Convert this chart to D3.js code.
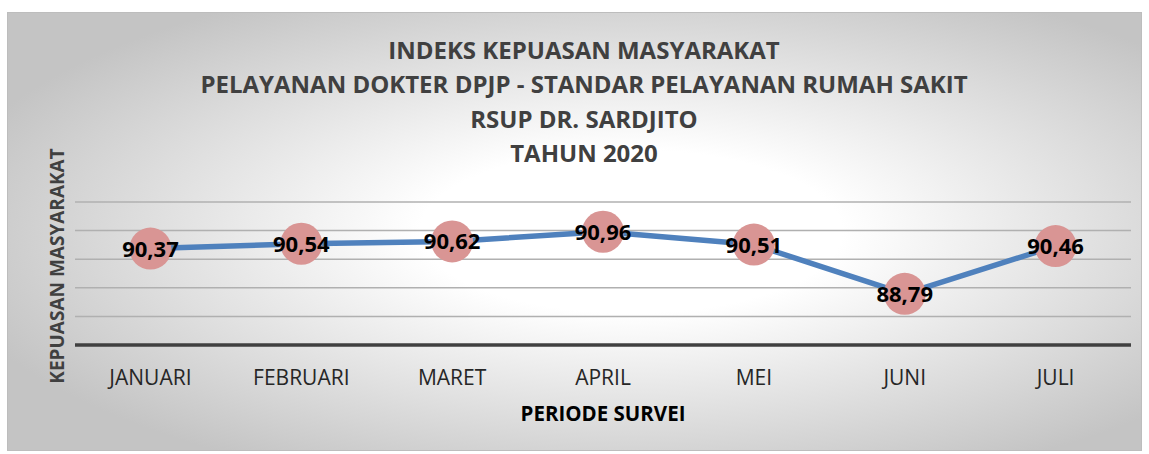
<!DOCTYPE html>
<html><head><meta charset="utf-8">
<script src="https://cdn.jsdelivr.net/npm/d3@7"></script>
<style>body{margin:0;background:#fff}svg{display:block}</style>
</head><body><svg id="c" width="1149" height="454"></svg>
<script>
const categories = ["JANUARI","FEBRUARI","MARET","APRIL","MEI","JUNI","JULI"];
const values = [90.37, 90.54, 90.62, 90.96, 90.51, 88.79, 90.46];
const yTicks = [87, 88, 89, 90, 91, 92];
const titleLines = ["INDEKS KEPUASAN MASYARAKAT","PELAYANAN DOKTER DPJP - STANDAR PELAYANAN RUMAH SAKIT","RSUP DR. SARDJITO","TAHUN 2020"];
const xTitle = "PERIODE SURVEI";
const yTitle = "KEPUASAN MASYARAKAT";

const svg = d3.select("#c");
const font = "'Open Sans', Calibri, sans-serif";
const defs = svg.append("defs");
const g = defs.append("radialGradient").attr("id","bg").attr("cx","0.55").attr("cy","0.5").attr("r","0.62");
g.append("stop").attr("offset","0").attr("stop-color","#ffffff");
g.append("stop").attr("offset","0.3").attr("stop-color","#ffffff");
g.append("stop").attr("offset","1").attr("stop-color","#c4c4c4");

svg.append("rect").attr("x",7.5).attr("y",12.5).attr("width",1134).attr("height",438)
  .attr("fill","url(#bg)").attr("stroke","#bdbdbd").attr("stroke-width",1);

const L=75, R=1131, T=202, B=345;
const x = d3.scaleBand().domain(categories).range([L,R]);
const y = d3.scaleLinear().domain([87,92]).range([B,T]);

// gridlines
svg.append("g").selectAll("line").data(yTicks.slice(1)).join("line")
  .attr("x1",L).attr("x2",R).attr("y1",d=>y(d)).attr("y2",d=>y(d))
  .attr("stroke","#b0b0b0").attr("stroke-width",1.5);

// x axis
const xAxis = svg.append("g").attr("transform",`translate(0,${B})`).call(d3.axisBottom(x).tickSize(0));
xAxis.select(".domain").attr("stroke","#404040").attr("stroke-width",3.5).attr("d",`M${L},0H${R}`);
xAxis.selectAll("text").attr("y",32).attr("dy","0.36em")
  .attr("font-family",font).attr("font-size",21).attr("fill","#262626");

// line
const cx = d=>x(d)+x.bandwidth()/2;
svg.append("path").datum(values).attr("fill","none").attr("stroke","#4f81bd").attr("stroke-width",5.5)
  .attr("stroke-linejoin","round")
  .attr("d", d3.line().x((d,i)=>cx(categories[i])).y(d=>y(d)));

svg.append("g").selectAll("circle").data(values).join("circle")
  .attr("cx",(d,i)=>cx(categories[i])).attr("cy",d=>y(d)).attr("r",21).attr("fill","#d99594");

svg.append("g").selectAll("text").data(values).join("text")
  .attr("x",(d,i)=>cx(categories[i])).attr("y",d=>y(d)).attr("dy","0.36em")
  .attr("text-anchor","middle").attr("font-family",font).attr("font-weight","bold").attr("font-size",22).attr("fill","#000")
  .text(d=>d.toFixed(2).replace(".",","));

// titles
svg.append("g").selectAll("text").data(titleLines).join("text")
  .attr("x",584).attr("y",(d,i)=>50.5+i*34.3).attr("dy","0.36em").attr("text-anchor","middle")
  .attr("font-family",font).attr("font-weight","bold").attr("font-size",24).attr("fill","#404040").text(d=>d);

svg.append("text").attr("x",603).attr("y",414).attr("dy","0.36em").attr("text-anchor","middle")
  .attr("font-family",font).attr("font-weight","bold").attr("font-size",20.5).attr("fill","#000").text(xTitle);

svg.append("text").attr("transform","translate(57,266) rotate(-90)").attr("dy","0.36em").attr("text-anchor","middle")
  .attr("font-family",font).attr("font-weight","bold").attr("font-size",19).attr("fill","#404040").text(yTitle);
</script></body></html>
